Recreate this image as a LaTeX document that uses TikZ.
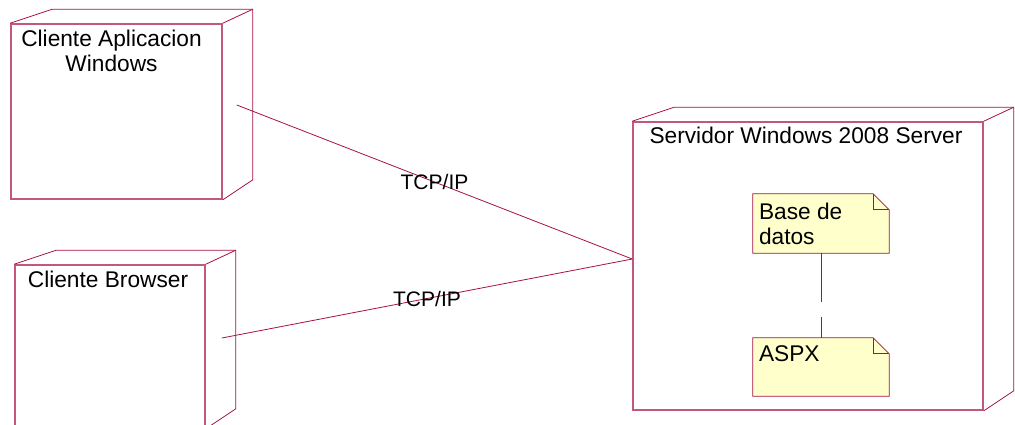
\documentclass[tikz,border=0pt]{standalone}
\usepackage{fontspec}
\setmainfont{Liberation Sans}
\usetikzlibrary{calc}
\definecolor{rosered}{RGB}{168,16,68}
\definecolor{notefill}{RGB}{255,255,204}

\newcommand{\nodeback}[1]{%
  \draw[edge] (#1.north west) -- ++(42,-14) -- ($(#1.north east)+(30,-14)$) -- ($(#1.south east)+(30,-20)$) -- (#1.south east);
  \draw[edge] (#1.north east) -- ++(30,-14);
}
\newcommand{\noteshape}[1]{%
  \filldraw[edge,fill=notefill] (#1.north west) -- ($(#1.north east)+(-16,0)$) -- ($(#1.north east)+(0,16)$) -- (#1.south east) -- (#1.south west) -- cycle;
  \draw[edge] ($(#1.north east)+(-16,0)$) -- ++(0,16) -- ++(16,0);
}

\begin{document}
\begin{tikzpicture}[x=1pt,y=-1pt,
    edge/.style={draw=rosered,line width=0.8pt},
    front/.style={draw=rosered!70!white,line width=1.6pt,rectangle,inner sep=0pt},
    notebox/.style={rectangle,inner sep=0pt,minimum width=136pt},
    title/.style={font=\fontsize{22.7}{25}\selectfont,align=center,inner sep=0pt,anchor=north},
    notetext/.style={font=\fontsize{22.7}{25}\selectfont,align=left,inner sep=0pt,anchor=north west},
    link/.style={draw=rosered,line width=0.8pt},
    tag/.style={font=\fontsize{21}{25}\selectfont,inner sep=0pt}]
  \useasboundingbox (0,0) rectangle (1015,424);
  \node[front,minimum width=211pt,minimum height=175pt] (capp) at (116.5,111.5) {};
  \node[front,minimum width=190pt,minimum height=163pt] (cbr) at (110,346.5) {};
  \node[front,minimum width=350pt,minimum height=288pt] (srv) at (808,266) {};
  \nodeback{capp}
  \nodeback{cbr}
  \nodeback{srv}
  \node[title] (capp-name) at ($(capp.north)+(-5,7)$) {Cliente Aplicacion\\Windows};
  \node[title] (cbr-name) at ($(cbr.north)+(-2,7)$) {Cliente Browser};
  \node[title] (srv-name) at ($(srv.north)+(-2,6)$) {Servidor Windows 2008 Server};

  \node[notebox,minimum height=59pt] (bdd) at (821,223.5) {};
  \node[notebox,minimum height=58pt] (aspx) at (821,367) {};
  \noteshape{bdd}
  \noteshape{aspx}
  \node[notetext] (bdd-name) at ($(bdd.north west)+(6,9)$) {Base de\\datos};
  \node[notetext] (aspx-name) at ($(aspx.north west)+(6,8)$) {ASPX};

  \coordinate (capp-port) at ($(capp.east)+(14,-6.5)$);
  \coordinate (cbr-port) at ($(cbr.east)+(16,-8.5)$);
  \coordinate (srv-port) at ($(srv.west)+(0,-7)$);
  \draw[link] (capp-port) -- node[tag] (tcp-a) {TCP/IP} (srv-port);
  \draw[link] (cbr-port) -- node[tag] (tcp-b) {TCP/IP} (srv-port);
  \draw[link,dash pattern=on 49pt off 15pt] (bdd.south) -- (aspx.north);
\end{tikzpicture}
\end{document}
